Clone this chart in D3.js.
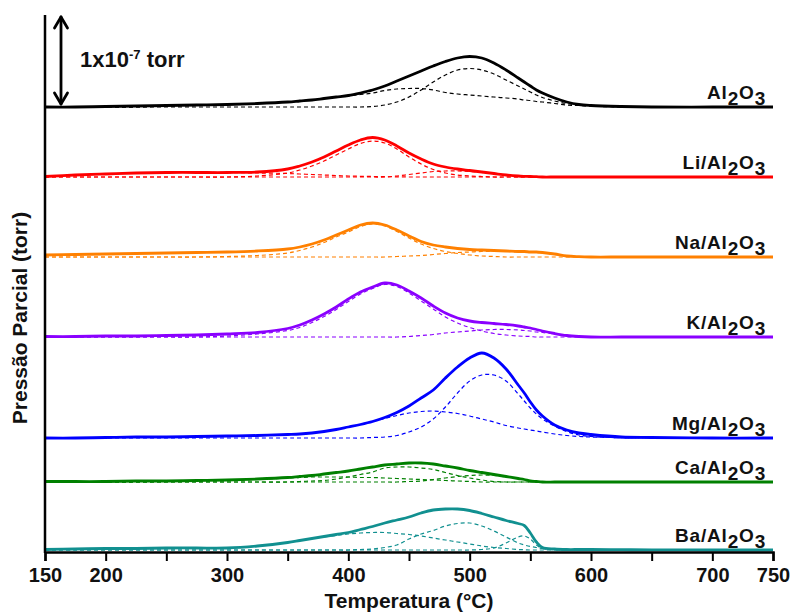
<!DOCTYPE html>
<html>
<head>
<meta charset="utf-8">
<script src="https://cdn.jsdelivr.net/npm/d3@7"></script>
<style>
  html, body { margin: 0; padding: 0; background: #fff; }
  svg { display: block; font-family: "Liberation Sans", Arial, sans-serif; }
</style>
</head>
<body>
<svg id="chart" width="790" height="612"></svg>
<script>
// ---------------- DATA ----------------
// Temperature grid (°C)
const temps = [150,175,200,225,250,275,300,325,350,360,370,380,390,400,410,420,430,440,450,460,470,480,490,500,510,520,530,540,545,550,555,560,570,580,590,600,625,650,700,750];

const xTicks = [150,200,250,300,350,400,450,500,550,600,650,700,750];
const xTickLabels = [150,200,300,400,500,600,700,750];

// Sample names (top to bottom)
const samples = ["Al2O3","Li/Al2O3","Na/Al2O3","K/Al2O3","Mg/Al2O3","Ca/Al2O3","Ba/Al2O3"];
// Vertical stacking offsets (data units; 86 units = 1x10^-7 torr)
const offsets = [445, 375, 295, 215, 114, 70, 2];
const scaleBarValue = 86; // = 1x10^-7 torr

// Measured profiles (signal above each baseline)
const measAl = [0,0,0.5,1,1.5,2,2.5,3.5,5,6, 7,8.5,10,11.5,14,17,21,26,31,36, 41,45.5,49,50.5,49,44,37,29,25,21, 17,14,9,5,2.5,1.5,0.5,0,0,0];
const measLi = [0.5,2,3,4,4.5,4.5,4.5,5,8,11, 15,20,26,32,37,39.5,37,31,24,18, 13,10,8,6.5,5,3.5,2,1,0.7,0.5, 0.3,0,0,0,0,0,0,0,0,0];
const measNa = [2,2.5,3,3.5,4,4.5,5,6,8,10, 13,17,22,27,32,34,32,27,21,15.5, 12,10,8.5,7.5,7,6.5,6,5.5,5.5,5, 5,4.5,3,1,0.3,0,0,0,0,0];
const measK  = [0.5,0.5,1,1,1.5,2,3,4.5,8.5,12, 17,23,30,38,45,50,54,52,46,39, 31,24,19,16,14.5,13.5,12.5,11,10,9, 7.5,6,3.5,1.5,0.5,0,0,0,0,0];
const measMg = [0,0,0.5,1,1,1.5,2,2.5,3.5,4, 5,6.5,8.5,11,13.5,16.5,20.5,25.5,32,40, 48,60,71,80,85,80,69,53,45,36, 28,22,13,8,5,3.5,1,0.5,0,0];
const measCa = [0.5,0.5,0.5,1,1,1.5,2,3,4.5,5.5, 6.5,8,9.5,11,13,15,17,18,19,19, 18,16,14,11.5,9.5,7.5,5.5,3.5,2.5,1, 0.5,0,0,0,0,0,0,0,0,0];
const measBa = [0.5,1,1.5,1.5,2,2,2,4,7.5,9.5, 11.5,13.5,15.5,17.5,20.5,23.5,27,30,33,37, 40,41,41,39.5,36.5,33,29.5,26.5,24.5,17, 8,2.5,1,0.5,0.5,0.5,0.3,0.2,0,0];

// Deconvoluted components (dashed)
const fitAl1 = [0,0,0,0,0,0,0,0,0,0, 0,0,0,0,0,0.5,2,5,10,17, 25,32,37,38.5,37,33,27,21,18,15, 12,9.5,6,3.5,2,1,0,0,0,0];
const fitAl2 = [0,0,0,0,1,1.5,2.5,3.5,5,6, 7,8.5,10,11,12.5,14,16.5,18,18.5,18.5, 17,14.5,13,12,11,10,9,8,7,6.5, 5.5,5,3.5,2,1.5,1,0.3,0,0,0];

const fitLi1 = [0,0,0,0,0,0,0,1,4,7, 11,16,22,28,33.5,36,34,28,20,13, 7.5,4,2,1,0.5,0,0,0,0,0, 0,0,0,0,0,0,0,0,0,0];
const fitLi2 = [0,0,0,0,0,0,0,0,0,0, 0,0,0,0,0,0,0,1,2.5,4, 5.5,6,6,5.5,4.5,3.5,2,1,0.7,0.5, 0,0,0,0,0,0,0,0,0,0];
const fitLi3 = [0.5,2,3,4,4.5,4.5,4.5,4,3.5,3, 2.5,2,1.5,1,0.7,0.5,0.3,0.2,0,0, 0,0,0,0,0,0,0,0,0,0, 0,0,0,0,0,0,0,0,0,0];

const fitNa1 = [0,0,0,0,0,0,0.5,1.5,4,6.5, 10,14.5,20,25,30.5,33,31,25.5,19,13, 8.5,5.5,3.5,2,1,0.5,0,0,0,0, 0,0,0,0,0,0,0,0,0,0];
const fitNa2 = [0,0,0,0,0,0,0,0,0,0, 0,0,0,0,0,0,0,0.5,1,1.5, 2.5,3.5,4.5,5,5.5,5.5,5.5,5,5,4.5, 4.5,4,2.5,1,0.3,0,0,0,0,0];

const fitK1 = [0,0,0,0,0,0,1,3,6.5,9.5, 14.5,20.5,27.5,35.5,43,48.5,52.5,50.5,44,36, 28,20,14,9.5,6,3.5,2,1,0.7,0.5, 0,0,0,0,0,0,0,0,0,0];
const fitK2 = [0,0,0,0,0,0,0,0,0,0, 0,0,0,0,0,0,0,0,0.5,1.5, 2.5,4,5,6,7,7.5,7.5,7,6.5,6, 5,4.5,3,1.5,0.5,0,0,0,0,0];

const fitMg1 = [0,0,0,0,0,0,0,0,0,0, 0,0,0,0,0,0.5,1,2.5,6,11, 19,31,45,57,63,63,57,44,37,30, 24,19,12,6.5,3,1.5,0.3,0,0,0];
const fitMg2 = [0,0,0.5,0.7,1,1.5,2,2.5,3.5,4, 5,6.5,8.5,11,13.5,16.5,19.5,22.5,25,26.5, 27,26,24.5,22,19,16,12.5,10,9,8, 7,6,4,2.5,1.5,1,0.3,0,0,0];

const fitCa1 = [0,0,0,0,0,0,0,0,0,0.5, 1,1.5,3,5,7.5,10,14,15,15,14, 12.5,9.5,6.5,4,2,0.5,0,0,0,0, 0,0,0,0,0,0,0,0,0,0];
const fitCa2 = [0,0,0,0,0,0,0,0,0,0, 0,0,0,0,0,0,0,0,0.5,1, 2.5,4,5.5,6.5,7,6.5,5,3.5,2.5,1, 0.5,0,0,0,0,0,0,0,0,0];
const fitCa3 = [0,0,0,0,0.5,1,1.5,2.5,4,4.5, 5,5,5,5,4.5,4.5,4,3.5,3,2.5, 2,1.5,1,0.5,0,0,0,0,0,0, 0,0,0,0,0,0,0,0,0,0];

const fitBa1 = [0,0,0,0,0,0,0,0,0,0, 0,0,0,0,0.5,1,2.5,5,11,16, 19.5,24,26.5,27,24,19,13,7,5,3.5, 2.5,1.5,0.7,0.3,0,0,0,0,0,0];
const fitBa2 = [0.5,1,1.5,1.5,2,2,2,4,7.5,9.5, 11.5,13,14.5,16,17,17.5,17.5,16.5,15.5,14, 12,10,8,6,4,2.5,1.5,0.5,0.3,0, 0,0,0,0,0,0,0,0,0,0];
const fitBa3 = [0,0,0,0,0,0,0,0,0,0, 0,0,0,0,0,0,0,0,0,0, 0,0,0,0,0.5,2,7,13,14,11, 5,1.5,0.3,0,0,0,0,0,0,0];

const colors = ["#000000","#ff0000","#ff8000","#8a00ff","#0000ff","#008000","#119090"];

// ---------------- BUILD ----------------
const measured = [measAl, measLi, measNa, measK, measMg, measCa, measBa];
const fits = [[fitAl1, fitAl2],[fitLi1, fitLi2, fitLi3],[fitNa1, fitNa2],[fitK1, fitK2],[fitMg1, fitMg2],[fitCa1, fitCa2, fitCa3],[fitBa1, fitBa2, fitBa3]];

const svg = d3.select("#chart");
const x = d3.scaleLinear().domain([150, 750]).range([45, 773]);
const y = d3.scaleLinear().domain([0, 537]).range([552, 15]);

const line = (off) => d3.line()
  .x((d, i) => x(temps[i]))
  .y(d => y(off + d))
  .curve(d3.curveCatmullRom.alpha(0.5));

// dashed components
samples.forEach((s, k) => {
  fits[k].forEach(f => {
    svg.append("path")
      .attr("d", line(offsets[k])(f))
      .attr("fill", "none")
      .attr("stroke", colors[k])
      .attr("stroke-width", 1.2)
      .attr("stroke-dasharray", "4,3");
  });
});
// measured curves
samples.forEach((s, k) => {
  svg.append("path")
    .attr("d", line(offsets[k])(measured[k]))
    .attr("fill", "none")
    .attr("stroke", colors[k])
    .attr("stroke-width", 2.8)
    .attr("stroke-linejoin", "round");
});

// sample labels with subscripts
samples.forEach((s, k) => {
  const t = svg.append("text")
    .attr("x", 766)
    .attr("y", y(offsets[k]) - 8)
    .attr("text-anchor", "end")
    .attr("font-size", 19)
    .attr("font-weight", "bold")
    .attr("letter-spacing", 0.8)
    .attr("fill", "#111");
  const parts = s.match(/\d+|[^\d]+/g);
  let sub = false;
  parts.forEach(p => {
    const isNum = /^\d+$/.test(p);
    const ts = t.append("tspan").text(p);
    if (isNum && !sub) { ts.attr("dy", 6); sub = true; }
    else if (!isNum && sub) { ts.attr("dy", -6); sub = false; }
  });
});

// axes
const xAxis = d3.axisBottom(x)
  .tickValues(xTicks)
  .tickSize(9)
  .tickFormat(d => xTickLabels.includes(d) ? d : "");
const gx = svg.append("g").attr("transform", `translate(0,${y(0)})`).call(xAxis);
gx.select(".domain").attr("stroke", "#000").attr("stroke-width", 2.5);
gx.selectAll(".tick line").attr("stroke", "#000").attr("stroke-width", 2);
gx.selectAll(".tick text")
  .attr("font-size", 20)
  .attr("font-weight", "bold")
  .attr("font-family", "'Liberation Sans', Arial, sans-serif")
  .attr("fill", "#111")
  .attr("dy", "0.9em");

svg.append("line")
  .attr("x1", x(150)).attr("x2", x(150))
  .attr("y1", y(537)).attr("y2", y(0) + 1)
  .attr("stroke", "#000").attr("stroke-width", 2.5);

svg.append("text")
  .attr("x", (x(150) + x(750)) / 2)
  .attr("y", 608)
  .attr("text-anchor", "middle")
  .attr("font-size", 21)
  .attr("font-weight", "bold")
  .attr("fill", "#111")
  .text("Temperatura (°C)");

svg.append("text")
  .attr("transform", `translate(27,${318}) rotate(-90)`)
  .attr("text-anchor", "middle")
  .attr("font-size", 21)
  .attr("font-weight", "bold")
  .attr("fill", "#111")
  .text("Pressão Parcial (torr)");

// scale bar arrow
const ax = 61;
const yLo = y(offsets[0] + 3), yHi = y(offsets[0] + 4 + scaleBarValue);
const ar = svg.append("g").attr("stroke", "#000").attr("stroke-width", 2.8).attr("fill", "none").attr("stroke-linecap", "round").attr("stroke-linejoin", "round");
ar.append("line").attr("x1", ax).attr("x2", ax).attr("y1", yLo).attr("y2", yHi);
ar.append("path").attr("d", `M${ax-6.5},${yHi+11} L${ax},${yHi} L${ax+6.5},${yHi+11}`);
ar.append("path").attr("d", `M${ax-6.5},${yLo-11} L${ax},${yLo} L${ax+6.5},${yLo-11}`);

const sb = svg.append("text")
  .attr("x", 80).attr("y", 67)
  .attr("font-size", 22)
  .attr("font-weight", "bold")
  .attr("fill", "#111");
sb.append("tspan").text("1x10");
sb.append("tspan").attr("font-size", 13).attr("dy", -8).text("-7");
sb.append("tspan").attr("dy", 8).text(" torr");
</script>
</body>
</html>
